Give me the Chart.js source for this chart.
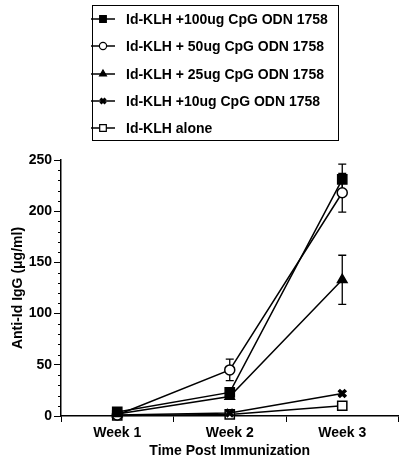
<!DOCTYPE html>
<html>
<head>
<meta charset="utf-8">
<script src="https://cdn.jsdelivr.net/npm/chart.js@4"></script>
<style>
    body { margin: 0; background: #fff; }
    #wrap { position: relative; width: 407px; height: 465px; }
    #legend {
        position: absolute; left: 92px; top: 5px; width: 247px; height: 136px;
        border: 1.5px solid #000; box-sizing: border-box;
        font: bold 14px "Liberation Sans", Arial, sans-serif; color: #000;
    }
    .row { position: absolute; left: -2px; height: 16px; display: flex; align-items: center; }
    .row canvas { margin-right: 11px; }
</style>
</head>
<body>
<div id="wrap">
    <canvas id="immuneChart" width="407" height="465"></canvas>
    <div id="legend"></div>
</div>
<script>
const weeks = ['Week 1', 'Week 2', 'Week 3'];
const labels = ['Id-KLH +100ug CpG ODN 1758', 'Id-KLH + 50ug CpG ODN 1758', 'Id-KLH + 25ug CpG ODN 1758', 'Id-KLH +10ug CpG ODN 1758', 'Id-KLH alone'];
const igg100 = [4, 23, 231];
const err100 = [1, 3, 15];
const igg50 = [1, 45, 218];
const err50 = [0.5, 10.5, 19];
const igg25 = [2, 19, 133];
const err25 = [0.5, 2, 24];
const igg10 = [1, 3, 22];
const err10 = [0.5, 1, 2];
const iggAlone = [0.5, 1.5, 10];
const errAlone = [0.5, 1, 4];
const yTicks = [0, 50, 100, 150, 200, 250];

const styles = [
    { pointStyle: 'rect', radius: 6.5, fill: '#000', bw: 1.5 },
    { pointStyle: 'circle', radius: 5, fill: '#fff', bw: 1.5 },
    { pointStyle: 'triangle', radius: 5.5, fill: '#000', bw: 1.5 },
    { pointStyle: 'crossRot', radius: 5, fill: '#000', bw: 3.5 },
    { pointStyle: 'rect', radius: 6.5, fill: '#fff', bw: 1.5 }
];
const values = [igg100, igg50, igg25, igg10, iggAlone];
const errors = [err100, err50, err25, err10, errAlone];

const FONT = '"Liberation Sans", Arial, sans-serif';

const datasets = values.map((vals, i) => ({
    label: labels[i],
    data: vals,
    errors: errors[i],
    borderColor: '#000',
    borderWidth: 1.5,
    tension: 0,
    pointStyle: styles[i].pointStyle,
    pointRadius: styles[i].radius,
    pointBackgroundColor: styles[i].fill,
    pointBorderColor: '#000',
    pointBorderWidth: styles[i].bw,
    clip: false
}));

// error bars, drawn under the markers
const errorBars = {
    id: 'errorBars',
    beforeDatasetsDraw(chart) {
        const ctx = chart.ctx;
        const y = chart.scales.y;
        ctx.save();
        ctx.strokeStyle = '#000';
        ctx.lineWidth = 1.3;
        chart.data.datasets.forEach((ds, di) => {
            const meta = chart.getDatasetMeta(di);
            ds.data.forEach((v, i) => {
                const e = ds.errors[i];
                const x = meta.data[i].x;
                const top = y.getPixelForValue(v + e);
                const bot = y.getPixelForValue(Math.max(v - e, 0));
                ctx.beginPath();
                ctx.moveTo(x, top); ctx.lineTo(x, bot);
                ctx.moveTo(x - 4, top); ctx.lineTo(x + 4, top);
                ctx.moveTo(x - 4, bot); ctx.lineTo(x + 4, bot);
                ctx.stroke();
            });
        });
        ctx.restore();
    }
};

// minor ticks every 10 on the y axis
const minorTicks = {
    id: 'minorTicks',
    afterDraw(chart) {
        const ctx = chart.ctx;
        const y = chart.scales.y;
        ctx.save();
        ctx.strokeStyle = '#000';
        ctx.lineWidth = 1;
        for (let v = 10; v < 250; v += 10) {
            if (v % 50 === 0) continue;
            const py = Math.round(y.getPixelForValue(v)) + 0.5;
            ctx.beginPath();
            ctx.moveTo(y.right - 3, py);
            ctx.lineTo(y.right, py);
            ctx.stroke();
        }
        ctx.restore();
    }
};

new Chart(document.getElementById('immuneChart').getContext('2d'), {
    type: 'line',
    data: { labels: weeks, datasets: datasets },
    options: {
        responsive: false,
        animation: false,
        layout: { padding: { top: 160, right: 7, left: 0, bottom: 0 } },
        plugins: { legend: { display: false }, tooltip: { enabled: false } },
        scales: {
            x: {
                offset: true,
                grid: { offset: true, drawOnChartArea: false, drawTicks: true, tickLength: 6, color: '#000', lineWidth: 1 },
                border: { color: '#000', width: 1.5 },
                ticks: { color: '#000', font: { family: FONT, size: 14, weight: 'bold' }, padding: 3 },
                title: { display: true, text: 'Time Post Immunization', color: '#000', font: { family: FONT, size: 14, weight: 'bold' }, padding: { top: 5, bottom: 5 } },
                afterFit: (s) => { s.height = 49; }
            },
            y: {
                min: 0,
                max: 250,
                afterBuildTicks: (s) => { s.ticks = yTicks.map(v => ({ value: v })); },
                grid: { drawOnChartArea: false, drawTicks: true, tickLength: 7, color: '#000', lineWidth: 1 },
                border: { color: '#000', width: 1.5 },
                ticks: { color: '#000', font: { family: FONT, size: 14, weight: 'bold' }, padding: 2 },
                title: { display: true, text: 'Anti-Id IgG (\u03BCg/ml)', color: '#000', font: { family: FONT, size: 14, weight: 'bold' }, padding: { top: 10, bottom: 0 } },
                afterFit: (s) => { s.width = 61; }
            }
        }
    },
    plugins: [errorBars, minorTicks]
});

// HTML legend with line + marker samples
const legend = document.getElementById('legend');
labels.forEach((text, i) => {
    const row = document.createElement('div');
    row.className = 'row';
    row.style.top = (5 + i * 27.3) + 'px';
    const c = document.createElement('canvas');
    c.width = 24; c.height = 16;
    const g = c.getContext('2d');
    g.strokeStyle = '#000';
    g.lineWidth = 1.5;
    g.beginPath(); g.moveTo(0, 8); g.lineTo(24, 8); g.stroke();
    g.fillStyle = styles[i].fill;
    g.lineWidth = styles[i].pointStyle === 'crossRot' ? 3 : 1.2;
    Chart.helpers.drawPoint(g, { pointStyle: styles[i].pointStyle, radius: styles[i].radius * 0.72, rotation: 0, borderWidth: g.lineWidth }, 12, 8);
    row.appendChild(c);
    const span = document.createElement('span');
    span.textContent = text;
    row.appendChild(span);
    legend.appendChild(row);
});
</script>
</body>
</html>
